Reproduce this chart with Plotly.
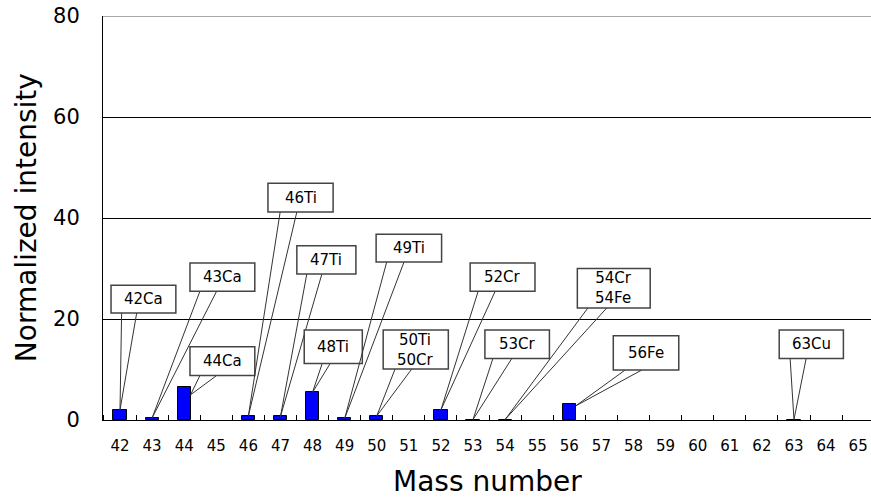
import plotly.graph_objects as go

# ---- data ----
mass_numbers = list(range(42, 66))
intensity = {42: 2.0, 43: 0.4, 44: 6.5, 46: 0.8, 47: 0.7, 48: 5.5, 49: 0.3,
             50: 0.8, 52: 2.0, 53: 0.1, 54: 0.1, 56: 3.2, 63: 0.1}
values = [intensity.get(m) for m in mass_numbers]
tick_labels = [str(m) for m in mass_numbers]
y_ticks = [0, 20, 40, 60, 80]

# callout labels: (mass, text)
callout_text = [
    (42, "42Ca"), (43, "43Ca"), (44, "44Ca"), (46, "46Ti"), (47, "47Ti"),
    (48, "48Ti"), (49, "49Ti"), (50, "50Ti<br>50Cr"), (52, "52Cr"),
    (53, "53Cr"), (54, "54Cr<br>54Fe"), (56, "56Fe"), (63, "63Cu"),
]
# callout layout: box x0, x1, y_top, y_bottom, leg1 x, leg2 x, tip dx, tip dy
callout_layout = {
    42: (41.72, 43.74, 26.7, 21.2, 42.05, 42.52, 0.0, 0.0),
    43: (44.18, 46.20, 31.1, 25.5, 44.49, 45.01, 0.0, 0.0),
    44: (44.18, 46.20, 14.5, 8.8, 44.49, 45.01, 0.2, 1.5),
    46: (46.61, 48.64, 46.9, 41.2, 46.99, 47.51, 0.0, 0.0),
    47: (47.51, 49.35, 34.5, 28.9, 47.82, 48.29, 0.0, 0.0),
    48: (47.74, 49.55, 17.8, 11.2, 48.30, 48.55, 0.0, 0.0),
    49: (49.98, 52.02, 36.8, 31.3, 50.31, 50.85, 0.0, 0.0),
    50: (50.20, 52.23, 17.8, 10.1, 50.57, 51.09, 0.0, 0.0),
    52: (52.91, 54.93, 31.1, 25.5, 53.16, 53.69, 0.0, 0.0),
    53: (53.37, 55.38, 17.8, 12.2, 53.62, 54.21, 0.0, 0.0),
    54: (56.25, 58.52, 30.0, 22.2, 56.58, 57.17, 0.0, 0.0),
    56: (57.37, 59.41, 16.7, 9.9, 57.74, 58.26, 0.2, 0.4),
    63: (62.54, 64.54, 17.8, 12.2, 62.88, 63.38, 0.0, 0.0),
}

FONT = "DejaVu Sans"

fig = go.Figure()
fig.add_trace(go.Bar(
    x=mass_numbers, y=values, width=0.41,
    marker=dict(color="#0000FF", line=dict(color="black", width=1)),
    showlegend=False,
))

shapes = []
annotations = []
for m, text in callout_text:
    x0, x1, yt, yb, l1, l2, dx, dy = callout_layout[m]
    tipx = m + dx
    tipy = intensity[m] - dy
    shapes.append(dict(type="path", xref="x", yref="y",
                       path=f"M {l1},{yb} L {tipx},{tipy} L {l2},{yb}",
                       line=dict(color="#333333", width=1), layer="above"))
    shapes.append(dict(type="rect", xref="x", yref="y", x0=x0, x1=x1, y0=yb, y1=yt,
                       fillcolor="white", line=dict(color="#444444", width=1.5),
                       layer="above"))
    annotations.append(dict(x=(x0 + x1) / 2, y=(yt + yb) / 2, xref="x", yref="y",
                            text=text, showarrow=False,
                            font=dict(family=FONT, size=15, color="black")))

# top border line
shapes.append(dict(type="line", xref="paper", yref="y", x0=0, x1=1, y0=80, y1=80,
                   line=dict(color="#a8a8a8", width=2), layer="above"))

annotations.append(dict(text="Mass number", xref="paper", yref="paper",
                        x=0.5, y=-0.153, yanchor="middle", showarrow=False,
                        font=dict(family=FONT, size=28, color="black")))
annotations.append(dict(text="Normalized intensity", xref="paper", yref="paper",
                        x=-0.1, y=0.5, xanchor="center", yanchor="middle",
                        textangle=-90, showarrow=False,
                        font=dict(family=FONT, size=28, color="black")))

fig.update_layout(
    width=871, height=501,
    margin=dict(l=103, r=0, t=16, b=81),
    plot_bgcolor="white", paper_bgcolor="white",
    shapes=shapes, annotations=annotations,
    bargap=0,
)
fig.update_xaxes(
    range=[41.47, 65.4], tickmode="array", tickvals=mass_numbers, ticktext=tick_labels,
    ticks="outside", ticklen=12, tickcolor="rgba(0,0,0,0)",
    showline=True, linecolor="black", linewidth=1, showgrid=False, zeroline=False,
    tickfont=dict(family=FONT, size=15, color="black"),
    minor=dict(tickmode="linear", tick0=41.5, dtick=1, ticks="inside", ticklen=5,
               tickcolor="black", showgrid=False),
)
fig.update_yaxes(
    range=[0, 80], tickmode="array", tickvals=y_ticks,
    ticks="outside", ticklen=18, tickcolor="rgba(0,0,0,0)",
    showline=True, linecolor="black", linewidth=1,
    showgrid=True, gridcolor="black", gridwidth=1, zeroline=False,
    tickfont=dict(family=FONT, size=21, color="black"),
)

fig.write_html("out.html")
